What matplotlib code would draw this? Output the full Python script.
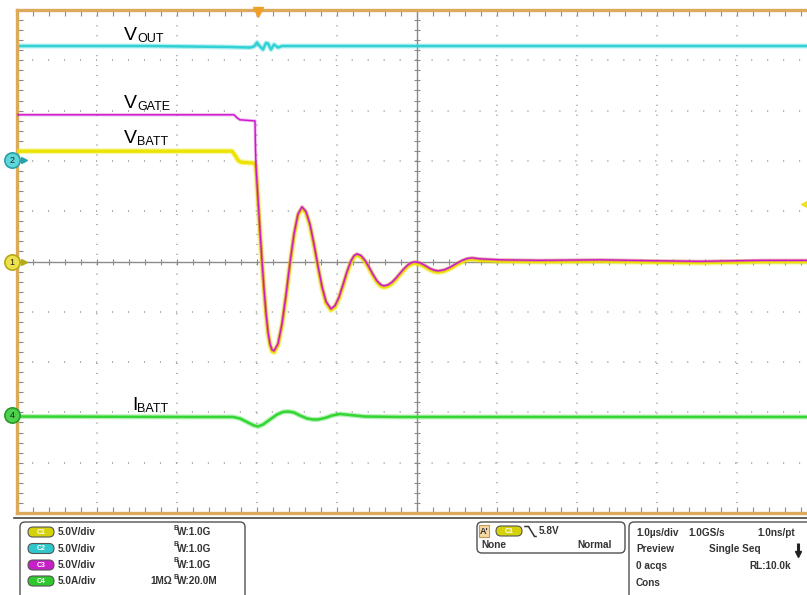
import matplotlib
matplotlib.use('Agg')
import matplotlib.pyplot as plt
import numpy as np
from matplotlib.patches import FancyBboxPatch
import matplotlib.transforms as mtransforms

# ---------------- data (time in µs from trigger, vertical in screen divisions) -------------
vbatt_pre_t = [-3.0, -0.3125, -0.275, -0.2375, -0.2, -0.025]
vbatt_pre_y = [2.207, 2.207, 2.127, 2.028, 1.988, 1.968]

vgate_pre_t = [-3.0, -0.2875, -0.25, -0.2125, -0.0375, -0.025, -0.019]
vgate_pre_y = [2.903, 2.903, 2.843, 2.803, 2.783, 2.783, 2.227]

ring_t = [-0.0125, 0.0125, 0.0375, 0.0625, 0.0875, 0.1125, 0.1375, 0.1625, 0.1875, 0.2125,
          0.2625, 0.3125, 0.3625, 0.4125, 0.4625, 0.5125, 0.5625, 0.6125, 0.6625, 0.7125,
          0.7625, 0.8125, 0.8625, 0.925, 0.975, 1.025, 1.075, 1.125, 1.175, 1.2125,
          1.25, 1.3, 1.35, 1.4, 1.45, 1.5, 1.55, 1.5875, 1.6375, 1.6875,
          1.7375, 1.7875, 1.8375, 1.8875, 1.9375, 1.975, 2.0375, 2.1, 2.1625, 2.2125,
          2.2625, 2.3375, 2.4125, 2.4875, 2.5625, 2.625, 2.6875, 2.7875, 3.0375, 3.5375,
          4.2875, 5.0375, 5.5375, 6.2875, 7.0]
ring_y = [1.869, 1.233, 0.596, 0.0, -0.557, -1.034, -1.412, -1.650, -1.769, -1.789,
          -1.648, -1.250, -0.678, -0.038, 0.535, 0.932, 1.074, 0.980, 0.724, 0.332,
          -0.105, -0.511, -0.809, -0.954, -0.891, -0.720, -0.473, -0.213, 0.002, 0.103,
          0.139, 0.105, 0.012, -0.123, -0.270, -0.398, -0.477, -0.497, -0.477, -0.423,
          -0.342, -0.247, -0.155, -0.078, -0.032, -0.020, -0.040, -0.091, -0.151, -0.185,
          -0.199, -0.179, -0.127, -0.058, 0.008, 0.046, 0.060, 0.040, 0.020, 0.010,
          0.020, 0.0, -0.010, 0.010, 0.010]

vout_t = [-3.0, -1.3375, -0.3375, -0.0875, -0.0375, 0.0, 0.0375, 0.075, 0.1125, 0.1375,
          0.175, 0.2125, 0.2625, 0.3125, 7.0]
vout_y = [4.284, 4.284, 4.264, 4.254, 4.274, 4.354, 4.274, 4.215, 4.344, 4.334,
          4.215, 4.314, 4.254, 4.284, 4.284]

ibatt_t = [-3.0, -0.7125, -0.3, -0.2125, -0.1125, -0.0375, 0.0125, 0.075, 0.1625, 0.25,
           0.325, 0.3875, 0.4625, 0.5375, 0.625, 0.7, 0.7625, 0.85, 0.9375, 1.0375,
           1.1625, 1.35, 1.7875, 7.0]
ibatt_y = [-3.082, -3.091, -3.091, -3.121, -3.201, -3.260, -3.280, -3.241, -3.141, -3.042,
           -2.992, -2.982, -3.002, -3.062, -3.121, -3.141, -3.141, -3.111, -3.062, -3.032,
           -3.052, -3.082, -3.091, -3.091]

ch_names = ['C1', 'C2', 'C3', 'C4']
ch_scales = ['5.0V/div', '5.0V/div', '5.0V/div', '5.0A/div']
ch_bw = ['1.0G', '1.0G', '1.0G', '20.0M']
ch_imp = ['', '', '', '1MΩ']
ch_colors = ['#d6d20a', '#2ec8cc', '#c81ec8', '#2ec82e']

# ---------------- figure ----------------
W, H = 807, 595
fig = plt.figure(figsize=(W / 100, H / 100), dpi=100)
fig.patch.set_facecolor('white')
FONT = ['Liberation Sans', 'DejaVu Sans']

ax = fig.add_axes([17 / W, (H - 513) / H, 800 / W, 503 / H], zorder=1)
ax.set_xlim(-3, 7)
ax.set_ylim(-5, 5)
ax.set_facecolor('white')
border = '#dcaa5a'
for s in ['left', 'top', 'bottom', 'right']:
    ax.spines[s].set_color(border)
    ax.spines[s].set_linewidth(2.4)

ax.set_xticks(np.arange(-3, 7.001, 0.2))
ax.set_yticks(np.arange(-5, 5.001, 0.2))
ax.tick_params(axis='both', which='both', direction='in', length=4, width=0.8,
               color='#8a8a8a', labelbottom=False, labelleft=False,
               top=True, bottom=True, left=True, right=False)

# dotted grid
for gx in [-2, -1, 0, 1, 3, 4, 5, 6]:
    ax.axvline(gx, color='#a8a8a8', lw=1.3, ls=(0, (0.6, 4.9)), zorder=0.5)
for gy in [-4, -3, -2, -1, 1, 2, 3, 4]:
    ax.axhline(gy, color='#a8a8a8', lw=1.3, ls=(0.5, (0.6, 8.25)), zorder=0.5)
# center cross-hair with ticks
ax.axhline(0, color='#8a8a8a', lw=1.0, zorder=0.6)
ax.axvline(2, color='#8a8a8a', lw=1.0, zorder=0.6)
xt = np.arange(-3, 7.001, 0.2)
yt = np.arange(-5, 5.001, 0.2)
ax.plot(xt, np.zeros_like(xt), ls='none', marker='|', ms=5, mew=0.8, color='#8a8a8a', zorder=0.6)
ax.plot(np.full_like(yt, 2.0), yt, ls='none', marker='_', ms=5, mew=0.8, color='#8a8a8a', zorder=0.6)

# traces
def trace(t, y, color, lw_core, lw_halo, z, dy=0.0):
    tr = mtransforms.offset_copy(ax.transData, fig=fig, x=0, y=dy, units='points')
    ax.plot(t, y, color=color, lw=lw_halo, alpha=0.35, solid_joinstyle='round', zorder=z, transform=tr)
    ax.plot(t, y, color=color, lw=lw_core, solid_joinstyle='round', zorder=z + 0.1, transform=tr)

trace(ibatt_t, ibatt_y, '#33d633', 1.8, 3.6, 2)
trace(vout_t, vout_y, '#30d2d6', 1.8, 3.6, 2)
trace(vbatt_pre_t + ring_t, vbatt_pre_y + ring_y, '#ece400', 2.4, 4.2, 3, dy=-0.5)
trace(vgate_pre_t + ring_t, vgate_pre_y + ring_y, '#cc18cc', 1.0, 2.2, 4, dy=0.5)

# ---------------- overlay in pixel coordinates ----------------
ov = fig.add_axes([0, 0, 1, 1], zorder=5)
ov.set_xlim(0, W)
ov.set_ylim(H, 0)
ov.axis('off')
ov.patch.set_alpha(0)

# trace labels
def label(main, sub, x, y, xs):
    ov.text(x, y, main, fontsize=14, family=FONT, va='baseline', ha='left', color='black')
    ov.text(xs, y + 2, sub, fontsize=9, family=FONT, va='baseline', ha='left', color='black')

label('V', 'OUT', 124, 40, 137.5)
label('V', 'GATE', 124, 108, 137.5)
label('V', 'BATT', 124, 143, 137.5)
label('I', 'BATT', 132, 410, 137.5)

# channel ground markers on the left
def chmark(y, num, fc, ec, arrow=True):
    if arrow:
        ov.plot(24, y, marker='>', ms=5, color=ec, zorder=6)
    ov.plot(12, y, marker='o', ms=11, mfc=fc, mec=ec, mew=1.2, zorder=7)
    ov.text(12, y + 0.5, num, fontsize=6.5, family=FONT, ha='center', va='center', color='#222', zorder=8)

chmark(160, '2', '#5fd8dc', '#2aa0a8')
chmark(262, '1', '#eee24a', '#b8a818')
chmark(415, '4', '#4cd24c', '#2a9a2a', arrow=False)

# trigger markers
ov.plot(258, 11.5, marker='v', ms=7, color='#f0a028', zorder=6)
ov.plot(807, 204, marker='<', ms=8, color='#f2e020', zorder=6)

# dark line under plot
ov.plot([14, 807], [518, 518], color='#444', lw=1.2)

# ---------------- bottom info panel ----------------
def box(x0, y0, x1, y1):
    p = FancyBboxPatch((x0, y0), x1 - x0, y1 - y0, boxstyle='round,pad=0,rounding_size=5',
                       fc='white', ec='#505050', lw=1.0, clip_on=False)
    ov.add_patch(p)

def pill(cx, cy, name, color):
    p = FancyBboxPatch((cx - 13, cy - 5), 26, 10, boxstyle='round,pad=0,rounding_size=5',
                       fc=color, ec='#555', lw=0.8)
    ov.add_patch(p)
    ov.text(cx, cy + 0.5, name, fontsize=5, family=FONT, ha='center', va='center',
            color='white', weight='bold')

TXT = dict(fontsize=7.2, family=FONT, weight='bold', color='#333', va='baseline')

box(20, 522, 245, 600)
left_base = [535, 551.5, 567.5, 584]
pill_y = [532, 548.5, 565, 581]
for i in range(4):
    pill(41, pill_y[i], ch_names[i], ch_colors[i])
    ov.text(58, left_base[i], ch_scales[i], **TXT)
    ov.text(173, left_base[i] - 5, 'B', fontsize=5, family=FONT, weight='bold', color='#333', va='baseline')
    ov.text(177, left_base[i], 'W:' + ch_bw[i], **TXT)
    if ch_imp[i]:
        ov.text(150, left_base[i], ch_imp[i], **TXT)

box(477, 522, 625, 553)
ov.add_patch(FancyBboxPatch((479, 525), 10, 12, boxstyle='square,pad=0', fc='#f6d8a6', ec='#c89a50', lw=0.8))
ov.text(484, 534.5, "A'", fontsize=6.5, family=FONT, weight='bold', color='#333', ha='center', va='baseline')
pill(509, 531, 'C1', ch_colors[0])
ov.plot([525, 528.5, 534.5, 536], [526.5, 526.5, 536.5, 536.5], color='#333', lw=1.1)
ov.text(539, 534, '5.8V', **TXT)
ov.text(481, 548, 'None', **TXT)
ov.text(577, 548, 'Normal', **TXT)

box(629, 522, 820, 600)
rb = [535.5, 552, 569, 586]
ov.text(636, rb[0], '1.0µs/div', **TXT)
ov.text(688, rb[0], '1.0GS/s', **TXT)
ov.text(757, rb[0], '1.0ns/pt', **TXT)
ov.text(636, rb[1], 'Preview', **TXT)
ov.text(709, rb[1], 'Single Seq', **TXT)
ov.text(636, rb[2], '0 acqs', **TXT)
ov.text(749, rb[2], 'RL:10.0k', **TXT)
ov.text(636, rb[3], 'Cons', **TXT)
ov.plot([798, 798], [543, 553], color='#222', lw=2.2, solid_capstyle='butt')
ov.plot(798, 554, marker='v', ms=4.5, color='#222')

fig.savefig('out.png', dpi=100)
